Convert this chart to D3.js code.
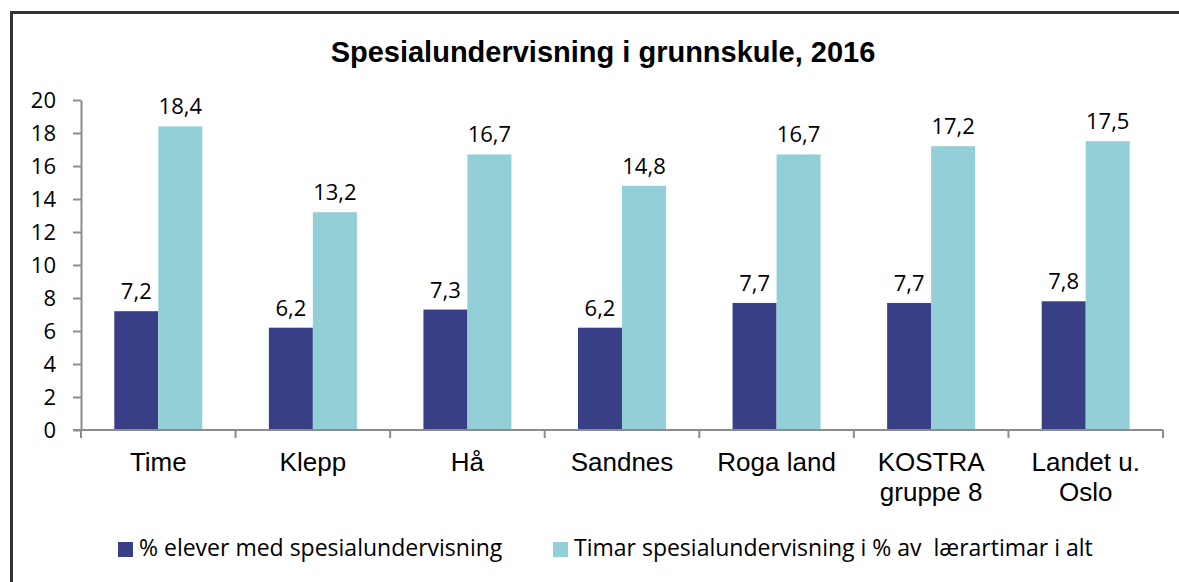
<!DOCTYPE html>
<html>
<head>
<meta charset="utf-8">
<script src="https://cdn.jsdelivr.net/npm/d3@7"></script>
<style>
  body { margin: 0; background: #fff; }
  svg { display: block; }
</style>
</head>
<body>
<div id="chart"></div>
<script>
// data
var categories = ["Time", "Klepp", "Hå", "Sandnes", "Roga land", "KOSTRA\ngruppe 8", "Landet u.\nOslo"];
var seriesNames = ["% elever med spesialundervisning", "Timar spesialundervisning i % av  lærartimar i alt"];
var elever = [7.2, 6.2, 7.3, 6.2, 7.7, 7.7, 7.8];
var timar = [18.4, 13.2, 16.7, 14.8, 16.7, 17.2, 17.5];
var yTicks = [0, 2, 4, 6, 8, 10, 12, 14, 16, 18, 20];
var colors = ["#383f86", "#93cfd6"];

var W = 1179, H = 582;
var margin = {top: 100, right: 16, bottom: 152, left: 81};
var width = W - margin.left - margin.right,
    height = H - margin.top - margin.bottom;

var svg = d3.select("#chart").append("svg")
  .attr("width", W)
  .attr("height", H);

// outer frame (runs off the right and bottom edge)
svg.append("rect")
  .attr("x", 11.5).attr("y", 12.5)
  .attr("width", 1200).attr("height", 600)
  .attr("fill", "none")
  .attr("stroke", "#333")
  .attr("stroke-width", 3);

svg.append("text")
  .attr("x", 603).attr("y", 62)
  .attr("text-anchor", "middle")
  .style("font-family", "'Liberation Sans', Arial, sans-serif")
  .style("font-weight", "bold")
  .style("font-size", "29px")
  .text("Spesialundervisning i grunnskule, 2016");

var g = svg.append("g")
  .attr("transform", "translate(" + margin.left + "," + margin.top + ")");

var x = d3.scaleBand().domain(categories).range([0, width]).padding(0);
var y = d3.scaleLinear().domain([0, 20]).range([height, 0]);
var barW = 44;

var data = categories.map(function(c, i) {
  return {cat: c, vals: [elever[i], timar[i]]};
});

// bars
var grp = g.selectAll(".grp").data(data).enter().append("g")
  .attr("class", "grp")
  .attr("transform", function(d) { return "translate(" + (x(d.cat) + x.bandwidth() / 2) + ",0)"; });

grp.selectAll("rect").data(function(d) { return d.vals; }).enter().append("rect")
  .attr("x", function(d, i) { return i == 0 ? -barW : 0; })
  .attr("width", barW)
  .attr("y", function(d) { return y(d); })
  .attr("height", function(d) { return height - y(d); })
  .attr("fill", function(d, i) { return colors[i]; });

grp.selectAll(".lbl").data(function(d) { return d.vals; }).enter().append("text")
  .attr("class", "lbl")
  .attr("x", function(d, i) { return i == 0 ? -barW / 2 : barW / 2; })
  .attr("y", function(d) { return y(d) - 12; })
  .attr("text-anchor", "middle")
  .style("font-family", "'Open Sans', sans-serif")
  .style("font-size", "22px")
  .style("fill", "#000")
  .text(function(d) { return String(d).replace(".", ","); });

// y axis
var yAxis = g.append("g")
  .call(d3.axisLeft(y).tickValues(yTicks).tickSize(8).tickPadding(17).tickSizeOuter(0));
yAxis.select(".domain").attr("stroke", "#8c8c8c").attr("stroke-width", 2);
yAxis.selectAll(".tick line").attr("stroke", "#8c8c8c").attr("stroke-width", 2);
yAxis.selectAll("text")
  .style("font-family", "'Open Sans', sans-serif")
  .style("font-size", "22px")
  .style("fill", "#000");

// x axis line and category separators
var xg = g.append("g").attr("transform", "translate(0," + height + ")");
xg.append("line")
  .attr("x1", -8).attr("x2", width)
  .attr("stroke", "#8c8c8c").attr("stroke-width", 2);
xg.selectAll(".sep").data(d3.range(categories.length + 1)).enter().append("line")
  .attr("class", "sep")
  .attr("x1", function(i) { return i * x.step(); })
  .attr("x2", function(i) { return i * x.step(); })
  .attr("y1", 0).attr("y2", 8)
  .attr("stroke", "#8c8c8c").attr("stroke-width", 2);

var catText = xg.selectAll(".cat").data(categories).enter().append("text")
  .attr("class", "cat")
  .attr("text-anchor", "middle")
  .attr("transform", function(d) { return "translate(" + (x(d) + x.bandwidth() / 2) + ",41)"; })
  .style("font-family", "'Liberation Sans', Arial, sans-serif")
  .style("font-size", "26px")
  .style("fill", "#000");
catText.selectAll("tspan").data(function(d) { return d.split("\n"); }).enter().append("tspan")
  .attr("x", 0)
  .attr("dy", function(d, i) { return i == 0 ? 0 : 30; })
  .text(function(d) { return d; });

// legend
var legX = [118, 553];
var leg = svg.selectAll(".leg").data(seriesNames).enter().append("g")
  .attr("class", "leg")
  .attr("transform", function(d, i) { return "translate(" + legX[i] + ",542)"; });
leg.append("rect")
  .attr("width", 15).attr("height", 15)
  .attr("fill", function(d, i) { return colors[i]; });
leg.append("text")
  .attr("x", 21).attr("y", 14)
  .style("font-family", "'Open Sans', sans-serif")
  .style("font-size", "23px")
  .style("fill", "#000")
  .style("white-space", "pre")
  .text(function(d) { return d; });
</script>
</body>
</html>
